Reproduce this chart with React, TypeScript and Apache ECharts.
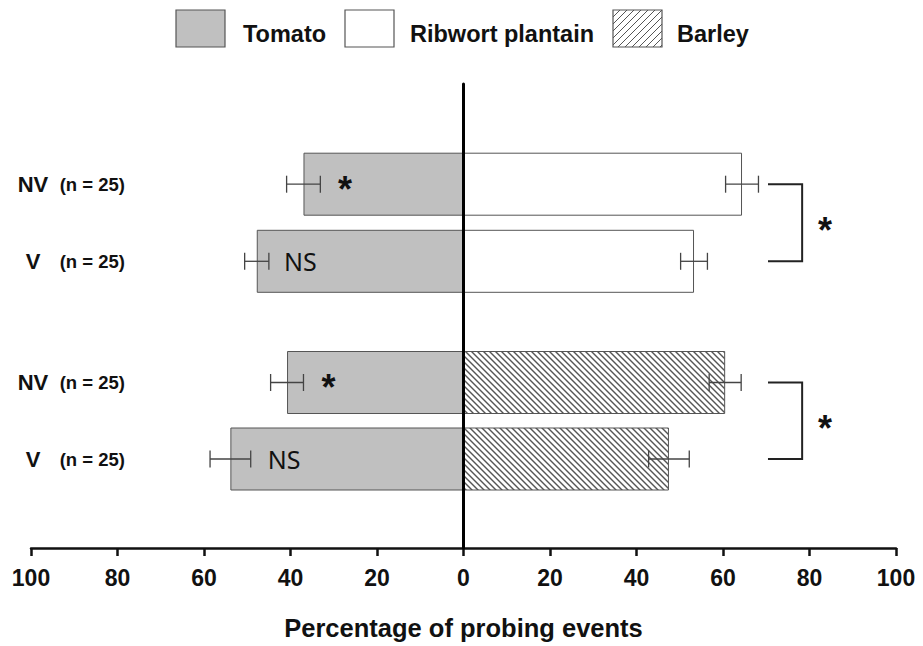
import React, { useEffect, useRef } from "react";
import * as echarts from "echarts";

// ---------- data ----------
const groupLabels = ["NV", "V"];
const nLabels = ["(n = 25)", "(n = 25)"];

// Panel A: tomato vs ribwort plantain
const tomatoA = [-37.0, -47.8];
const tomatoAErr = [3.9, 2.8];
const ribwort = [64.4, 53.3];
const ribwortErr = [3.8, 3.1];
const annotTextA = ["*", "NS"];
const annotPosA = [-27.4, -37.7];
const bracketA = [70.4, 78.3, 83.6]; // left end, right end, star position

// Panel B: tomato vs barley
const tomatoB = [-40.8, -53.9];
const tomatoBErr = [3.8, 4.7];
const barley = [60.5, 47.5];
const barleyErr = [3.7, 4.7];
const annotTextB = ["*", "NS"];
const annotPosB = [-31.2, -41.5];
const bracketB = [70.4, 78.3, 83.6];
const bracketText = "*";

const legendNames = ["Tomato", "Ribwort plantain", "Barley"];
const xMin = -100;
const xMax = 100;
const xInterval = 20;
const xTitle = "Percentage of probing events";

// ---------- helpers ----------
const FONT = "'Liberation Sans', Arial, sans-serif";

function makeHatch(size: number, dir: "back" | "fwd", color: string, lw: number) {
  const c = document.createElement("canvas");
  c.width = size;
  c.height = size;
  const ctx = c.getContext("2d") as CanvasRenderingContext2D;
  ctx.fillStyle = "#ffffff";
  ctx.fillRect(0, 0, size, size);
  ctx.strokeStyle = color;
  ctx.lineWidth = lw;
  for (let k = -2 * size; k <= 3 * size; k += size) {
    ctx.beginPath();
    if (dir === "back") {
      ctx.moveTo(-2, -2 + k);
      ctx.lineTo(size + 2, size + 2 + k);
    } else {
      ctx.moveTo(-2, k + 2);
      ctx.lineTo(size + 2, k - size - 2);
    }
    ctx.stroke();
  }
  return { image: c, repeat: "repeat", imageWidth: size, imageHeight: size } as any;
}

const errRender = (params: any, api: any) => {
  const v = api.value(0);
  const cat = api.value(1);
  const e = api.value(2);
  const lo = api.coord([v - e, cat]);
  const hi = api.coord([v + e, cat]);
  const h = 8.5;
  const style = { stroke: "#444", lineWidth: 1.3, fill: null };
  return {
    type: "group",
    children: [
      { type: "line", shape: { x1: lo[0], y1: lo[1], x2: hi[0], y2: hi[1] }, style },
      { type: "line", shape: { x1: lo[0], y1: lo[1] - h, x2: lo[0], y2: lo[1] + h }, style },
      { type: "line", shape: { x1: hi[0], y1: hi[1] - h, x2: hi[0], y2: hi[1] + h }, style },
    ],
  };
};

const makeAnnotRender = (texts: string[]) => (params: any, api: any) => {
  const p = api.coord([api.value(0), api.value(1)]);
  const t = texts[params.dataIndex];
  const isStar = t === "*";
  return {
    type: "text",
    x: p[0],
    y: p[1] + (isStar ? 5 : 0),
    style: {
      text: t,
      fill: "#111",
      align: "center",
      verticalAlign: "middle",
      fontSize: isStar ? 36 : 25,
      fontWeight: isStar ? "bold" : "normal",
      fontFamily: isStar ? FONT : "'Noto Sans', 'Open Sans', sans-serif",
    },
  };
};

const bracketRender = (params: any, api: any) => {
  const x1 = api.value(0);
  const x2 = api.value(1);
  const xs = api.value(2);
  const a = api.coord([x1, 0]);
  const b = api.coord([x2, 0]);
  const c = api.coord([x2, 1]);
  const d = api.coord([x1, 1]);
  const s0 = api.coord([xs, 0]);
  const s1 = api.coord([xs, 1]);
  return {
    type: "group",
    children: [
      {
        type: "polyline",
        shape: { points: [a, b, c, d] },
        style: { stroke: "#222", lineWidth: 2, fill: null },
      },
      {
        type: "text",
        x: s0[0],
        y: (s0[1] + s1[1]) / 2 + 8,
        style: {
          text: bracketText,
          fill: "#111",
          align: "center",
          verticalAlign: "middle",
          fontSize: 36,
          fontWeight: "bold",
          fontFamily: FONT,
        },
      },
    ],
  };
};

export default function App() {
  const ref = useRef<HTMLDivElement>(null);

  useEffect(() => {
    if (!ref.current) return;
    const chart = echarts.init(ref.current, undefined, { renderer: "svg" });

    const barHatch = makeHatch(6, "back", "#555", 1.4);
    const legendHatch = makeHatch(7, "fwd", "#555", 1);

    const L = 31;
    const R = 27;

    const catAxis = (gridIndex: number, data: string[], extra: any) => ({
      type: "category",
      gridIndex,
      data,
      inverse: true,
      position: "left",
      axisLine: { show: false },
      axisTick: { show: false },
      splitLine: { show: false },
      ...extra,
    });

    const groupLabelStyle = {
      margin: -2,
      align: "center",
      fontSize: 22,
      fontWeight: "bold",
      color: "#111",
      fontFamily: FONT,
    };
    const nLabelStyle = {
      margin: -94,
      fontSize: 18.5,
      fontWeight: "bold",
      color: "#111",
      fontFamily: FONT,
    };

    const barStyle = (color: any) => ({ color, borderColor: "#555", borderWidth: 1 });

    const legendBoxes = [
      { x: 176, fill: "#c0c0c0", tx: 243 },
      { x: 345, fill: "#ffffff", tx: 410 },
      { x: 613, fill: legendHatch, tx: 677 },
    ];

    const graphic: any[] = [];
    legendBoxes.forEach((b, i) => {
      graphic.push({
        type: "rect",
        shape: { x: b.x, y: 10, width: 49, height: 37 },
        style: { fill: b.fill, stroke: "#555", lineWidth: 1.2 },
      });
      graphic.push({
        type: "text",
        x: b.tx,
        y: 34,
        style: {
          text: legendNames[i],
          fill: "#111",
          fontSize: 23.5,
          fontWeight: "bold",
          fontFamily: FONT,
          verticalAlign: "middle",
        },
      });
    });

    chart.setOption({
      animation: false,
      graphic,
      grid: [
        { left: L, right: R, top: 84, height: 464.3 },
        { left: L, right: R, top: 145.65, height: 154.2 },
        { left: L, right: R, top: 344.25, height: 153 },
      ],
      xAxis: [
        {
          type: "value",
          gridIndex: 0,
          min: xMin,
          max: xMax,
          interval: xInterval,
          axisLine: { show: true, onZero: false, lineStyle: { color: "#111", width: 2.5 } },
          axisTick: { show: true, length: 8, lineStyle: { color: "#111", width: 2.5 } },
          splitLine: { show: false },
          axisLabel: {
            formatter: (v: number) => String(Math.abs(v)),
            fontSize: 23,
            fontWeight: "bold",
            color: "#111",
            fontFamily: FONT,
            margin: 18,
          },
          name: xTitle,
          nameLocation: "middle",
          nameGap: 67,
          nameTextStyle: { fontSize: 25.5, fontWeight: "bold", color: "#111", fontFamily: FONT },
        },
        { type: "value", gridIndex: 1, min: xMin, max: xMax, show: false },
        { type: "value", gridIndex: 2, min: xMin, max: xMax, show: false },
      ],
      yAxis: [
        {
          type: "value",
          gridIndex: 0,
          min: 0,
          max: 1,
          z: 10,
          axisLine: { show: true, onZero: true, lineStyle: { color: "#000", width: 3 } },
          axisTick: { show: false },
          axisLabel: { show: false },
          splitLine: { show: false },
        },
        catAxis(1, groupLabels, { axisLabel: groupLabelStyle }),
        catAxis(1, nLabels, { axisLabel: nLabelStyle }),
        catAxis(2, groupLabels, { axisLabel: groupLabelStyle }),
        catAxis(2, nLabels, { axisLabel: nLabelStyle }),
      ],
      series: [
        {
          name: legendNames[0],
          type: "bar",
          xAxisIndex: 1,
          yAxisIndex: 1,
          data: tomatoA,
          barWidth: 63,
          barGap: "-100%",
          itemStyle: barStyle("#c0c0c0"),
        },
        {
          name: legendNames[1],
          type: "bar",
          xAxisIndex: 1,
          yAxisIndex: 1,
          data: ribwort,
          barWidth: 63,
          barGap: "-100%",
          itemStyle: barStyle("#ffffff"),
        },
        {
          name: legendNames[0],
          type: "bar",
          xAxisIndex: 2,
          yAxisIndex: 3,
          data: tomatoB,
          barWidth: 63,
          barGap: "-100%",
          itemStyle: barStyle("#c0c0c0"),
        },
        {
          name: legendNames[2],
          type: "bar",
          xAxisIndex: 2,
          yAxisIndex: 3,
          data: barley,
          barWidth: 63,
          barGap: "-100%",
          itemStyle: barStyle(barHatch),
        },
        {
          type: "custom",
          xAxisIndex: 1,
          yAxisIndex: 1,
          renderItem: errRender,
          encode: { x: 0, y: 1 },
          data: tomatoA.map((v, i) => [v, i, tomatoAErr[i]]),
          z: 5,
        },
        {
          type: "custom",
          xAxisIndex: 1,
          yAxisIndex: 1,
          renderItem: errRender,
          encode: { x: 0, y: 1 },
          data: ribwort.map((v, i) => [v, i, ribwortErr[i]]),
          z: 5,
        },
        {
          type: "custom",
          xAxisIndex: 2,
          yAxisIndex: 3,
          renderItem: errRender,
          encode: { x: 0, y: 1 },
          data: tomatoB.map((v, i) => [v, i, tomatoBErr[i]]),
          z: 5,
        },
        {
          type: "custom",
          xAxisIndex: 2,
          yAxisIndex: 3,
          renderItem: errRender,
          encode: { x: 0, y: 1 },
          data: barley.map((v, i) => [v, i, barleyErr[i]]),
          z: 5,
        },
        {
          type: "custom",
          xAxisIndex: 1,
          yAxisIndex: 1,
          renderItem: makeAnnotRender(annotTextA),
          encode: { x: 0, y: 1 },
          data: annotPosA.map((x, i) => [x, i]),
          z: 6,
        },
        {
          type: "custom",
          xAxisIndex: 2,
          yAxisIndex: 3,
          renderItem: makeAnnotRender(annotTextB),
          encode: { x: 0, y: 1 },
          data: annotPosB.map((x, i) => [x, i]),
          z: 6,
        },
        {
          type: "custom",
          xAxisIndex: 1,
          yAxisIndex: 1,
          renderItem: bracketRender,
          encode: { x: [0, 1, 2], y: 3 },
          data: [[bracketA[0], bracketA[1], bracketA[2], 0]],
          z: 6,
        },
        {
          type: "custom",
          xAxisIndex: 2,
          yAxisIndex: 3,
          renderItem: bracketRender,
          encode: { x: [0, 1, 2], y: 3 },
          data: [[bracketB[0], bracketB[1], bracketB[2], 0]],
          z: 6,
        },
      ],
    });

    return () => chart.dispose();
  }, []);

  return (
    <div
      ref={ref}
      style={{ position: "absolute", left: 0, top: 0, width: 923, height: 646, background: "#fff" }}
    />
  );
}
